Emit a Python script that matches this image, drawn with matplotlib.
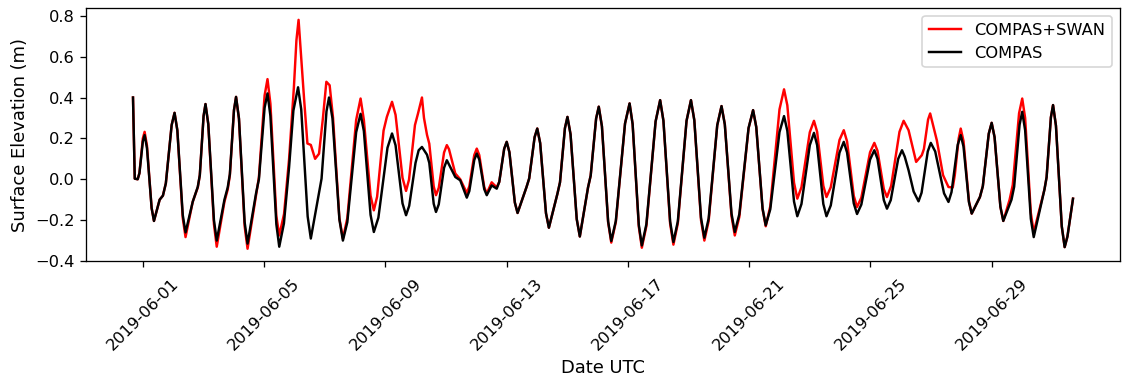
import matplotlib
matplotlib.use("Agg")
import matplotlib.pyplot as plt
import matplotlib.dates as mdates
import pandas as pd

# (hours after 2019-06-01 00:00 UTC, surface elevation in m)
compas_readings = [
    (-7.9, 0.40), (-6.5, 0.003), (-4.2, 0.0), (-2.8, 0.03), (-0.1, 0.185), (1.3, 0.216),
    (3.15, 0.153), (6.85, -0.141), (8.7, -0.204), (13.2, -0.10), (15.8, -0.08), (18.1, -0.02),
    (22.7, 0.265), (25.0, 0.325), (27.2, 0.24), (31.5, -0.175), (33.7, -0.26), (39.4, -0.11),
    (43.4, -0.037), (45.0, 0.02), (48.0, 0.31), (49.5, 0.368), (51.7, 0.27), (56.2, -0.20),
    (58.4, -0.30), (64.5, -0.10), (67.1, -0.04), (68.8, 0.025), (72.05, 0.338), (73.7, 0.403),
    (76.0, 0.298), (80.5, -0.21), (82.8, -0.315), (89.5, -0.07), (91.8, 0.0), (96.3, 0.35),
    (98.6, 0.42), (100.9, 0.31), (105.6, -0.22), (107.9, -0.33), (111.6, -0.216), (115.7, 0.06),
    (119.1, 0.336), (122.8, 0.45), (125.3, 0.342), (130.4, -0.182), (132.9, -0.29), (139.4, -0.065),
    (141.4, 0.003), (145.3, 0.332), (147.3, 0.40), (150.05, 0.298), (155.55, -0.198), (158.3, -0.30),
    (161.8, -0.21), (168.8, 0.23), (172.3, 0.32), (174.9, 0.236), (180.2, -0.174), (182.8, -0.258),
    (186.4, -0.188), (193.6, 0.154), (197.2, 0.224), (200.0, 0.166), (205.5, -0.118), (208.3, -0.176),
    (210.8, -0.13), (215.8, 0.08), (218.3, 0.142), (220.9, 0.158), (224.9, 0.12), (226.7, 0.08),
    (230.2, -0.12), (232.0, -0.16), (234.2, -0.123), (238.4, 0.056), (240.6, 0.093), (247.3, 0.011),
    (251.2, -0.005), (256.4, -0.09), (258.4, -0.058), (262.3, 0.094), (264.3, 0.126), (266.3, 0.096),
    (270.2, -0.048), (272.2, -0.078), (276.1, -0.03), (280.1, -0.046), (282.1, -0.013), (286.0, 0.149),
    (288.0, 0.183), (290.15, 0.132), (294.45, -0.114), (296.6, -0.165), (303.7, -0.038), (305.8, 0.004),
    (310.1, 0.206), (312.2, 0.248), (314.5, 0.177), (319.1, -0.166), (321.4, -0.237), (328.2, -0.07),
    (330.2, -0.015), (334.1, 0.25), (336.1, 0.305), (338.55, 0.22), (343.45, -0.195), (345.9, -0.28),
    (352.4, -0.04), (354.5, 0.018), (358.8, 0.297), (360.9, 0.355), (363.4, 0.259), (368.3, -0.206),
    (370.8, -0.302), (374.4, -0.204), (381.7, 0.273), (385.3, 0.371), (387.7, 0.27), (392.6, -0.223),
    (395.0, -0.324), (398.6, -0.22), (405.9, 0.283), (409.5, 0.387), (412.1, 0.286), (417.4, -0.206),
    (420.0, -0.307), (423.5, -0.206), (430.4, 0.286), (433.9, 0.387), (436.55, 0.289), (441.85, -0.188),
    (444.5, -0.286), (447.9, -0.192), (454.7, 0.264), (458.1, 0.358), (460.7, 0.268), (466.0, -0.168),
    (468.6, -0.258), (472.2, -0.171), (479.5, 0.251), (483.1, 0.338), (485.6, 0.256), (490.6, -0.143),
    (493.1, -0.225), (496.7, -0.147), (504.0, 0.231), (507.6, 0.309), (510.2, 0.237), (515.5, -0.109),
    (518.1, -0.181), (521.4, -0.121), (528.0, 0.167), (531.3, 0.227), (533.8, 0.167), (538.7, -0.121),
    (541.2, -0.181), (544.6, -0.128), (551.5, 0.13), (554.9, 0.183), (557.5, 0.131), (562.8, -0.118),
    (565.4, -0.17), (568.8, -0.124), (575.7, 0.096), (579.1, 0.142), (581.6, 0.10), (586.6, -0.102),
    (589.1, -0.144), (592.1, -0.102), (598.0, 0.10), (601.0, 0.142), (603.2, 0.11), (606.2, 0.044),
    (610.2, -0.06), (614.1, -0.108), (616.5, -0.066), (621.4, 0.136), (623.8, 0.178), (627.3, 0.136),
    (634.3, -0.069), (637.8, -0.111), (640.2, -0.063), (645.1, 0.168), (647.5, 0.216), (649.7, 0.16),
    (654.0, -0.112), (656.2, -0.168), (662.7, -0.087), (665.0, -0.034), (669.7, 0.223), (672.0, 0.276),
    (674.3, 0.206), (678.9, -0.134), (681.2, -0.204), (687.7, -0.10), (689.8, -0.037), (694.1, 0.267),
    (696.2, 0.33), (698.5, 0.24), (703.0, -0.193), (705.3, -0.283), (713.8, -0.05), (715.5, 0.01),
    (718.9, 0.303), (720.6, 0.363), (722.9, 0.262), (727.5, -0.23), (729.8, -0.332), (732.0, -0.28),
    (736.4, -0.095),
]

compas_swan_readings = [
    (-7.9, 0.40), (-6.5, 0.003), (-4.2, 0.0), (-2.8, 0.03), (-0.1, 0.20), (1.3, 0.232),
    (3.15, 0.165), (6.85, -0.141), (8.7, -0.204), (13.2, -0.10), (15.8, -0.08), (18.1, -0.02),
    (22.7, 0.265), (25.0, 0.325), (27.2, 0.24), (31.5, -0.19), (33.7, -0.283), (39.4, -0.11),
    (43.4, -0.04), (45.0, 0.02), (48.0, 0.31), (49.5, 0.368), (51.7, 0.27), (56.2, -0.22),
    (58.4, -0.33), (64.5, -0.11), (67.1, -0.05), (68.8, 0.02), (72.05, 0.338), (73.7, 0.403),
    (76.0, 0.295), (80.5, -0.23), (82.8, -0.34), (89.5, -0.08), (91.8, 0.01), (96.3, 0.41),
    (98.6, 0.49), (100.9, 0.37), (105.6, -0.18), (107.9, -0.275), (111.7, -0.17), (115.7, 0.10),
    (119.5, 0.45), (121.5, 0.68), (123.2, 0.78), (125.0, 0.62), (127.6, 0.39), (130.2, 0.175),
    (132.9, 0.168), (136.3, 0.10), (139.4, 0.125), (142.5, 0.30), (145.2, 0.477), (147.8, 0.46),
    (150.5, 0.30), (155.5, -0.19), (158.3, -0.29), (161.8, -0.19), (168.8, 0.29), (172.3, 0.395),
    (174.9, 0.29), (180.2, -0.08), (182.8, -0.152), (185.4, -0.085), (190.5, 0.238), (193.1, 0.305),
    (197.2, 0.379), (200.0, 0.315), (205.5, 0.007), (208.3, -0.057), (210.65, -0.002), (215.35, 0.265),
    (217.7, 0.32), (220.9, 0.40), (222.5, 0.30), (224.9, 0.217), (226.7, 0.174), (230.2, -0.035),
    (232.0, -0.078), (234.2, -0.042), (238.4, 0.131), (240.6, 0.167), (242.3, 0.147), (247.3, 0.028),
    (251.2, 0.0), (256.4, -0.067), (258.4, -0.035), (262.3, 0.118), (264.3, 0.15), (266.3, 0.118),
    (270.2, -0.038), (272.2, -0.07), (276.1, -0.015), (280.1, -0.04), (282.1, -0.013), (286.0, 0.149),
    (288.0, 0.183), (290.15, 0.132), (294.45, -0.114), (296.6, -0.165), (303.7, -0.038), (305.8, 0.004),
    (310.1, 0.206), (312.2, 0.248), (314.5, 0.177), (319.1, -0.166), (321.4, -0.237), (328.2, -0.07),
    (330.2, -0.015), (334.1, 0.25), (336.1, 0.305), (338.55, 0.22), (343.45, -0.195), (345.9, -0.28),
    (352.4, -0.04), (354.5, 0.018), (358.8, 0.297), (360.9, 0.355), (363.4, 0.259), (368.3, -0.21),
    (370.8, -0.31), (374.4, -0.21), (381.7, 0.273), (385.3, 0.371), (387.7, 0.27), (392.6, -0.232),
    (395.0, -0.335), (398.6, -0.229), (405.9, 0.283), (409.5, 0.387), (412.1, 0.286), (417.4, -0.217),
    (420.0, -0.32), (423.5, -0.216), (430.4, 0.286), (433.9, 0.387), (436.55, 0.289), (441.85, -0.20),
    (444.5, -0.30), (447.9, -0.205), (454.7, 0.264), (458.1, 0.358), (460.7, 0.27), (466.0, -0.18),
    (468.6, -0.275), (472.2, -0.184), (479.5, 0.249), (483.1, 0.338), (485.6, 0.255), (490.6, -0.146),
    (493.1, -0.23), (496.7, -0.132), (504.0, 0.342), (507.6, 0.44), (510.2, 0.362), (515.5, -0.017),
    (518.1, -0.095), (521.4, -0.039), (528.0, 0.23), (531.3, 0.286), (533.8, 0.232), (538.7, -0.032),
    (541.2, -0.087), (544.6, -0.039), (551.5, 0.192), (554.9, 0.24), (557.5, 0.185), (562.8, -0.081),
    (565.4, -0.136), (568.8, -0.09), (575.7, 0.132), (579.1, 0.178), (581.6, 0.139), (586.6, -0.048),
    (589.1, -0.087), (592.4, -0.033), (599.0, 0.232), (602.3, 0.286), (606.2, 0.24), (612.2, 0.085),
    (616.7, 0.118), (618.35, 0.148), (621.65, 0.292), (623.3, 0.322), (628.6, 0.19), (633.5, 0.02),
    (637.8, -0.038), (641.2, -0.04), (642.8, 0.02), (645.9, 0.20), (647.5, 0.248), (649.7, 0.187),
    (654.0, -0.107), (656.2, -0.168), (662.7, -0.087), (665.0, -0.034), (669.7, 0.223), (672.0, 0.276),
    (674.3, 0.206), (678.9, -0.134), (681.2, -0.204), (686.2, -0.10), (688.7, -0.028), (693.7, 0.323),
    (696.2, 0.395), (698.5, 0.30), (703.0, -0.164), (705.3, -0.26), (713.8, -0.05), (715.5, 0.01),
    (718.9, 0.303), (720.6, 0.363), (722.9, 0.262), (727.5, -0.23), (729.8, -0.332), (732.0, -0.28),
    (736.4, -0.095),
]

tick_dates = ["2019-06-01", "2019-06-05", "2019-06-09", "2019-06-13",
              "2019-06-17", "2019-06-21", "2019-06-25", "2019-06-29"]

start = pd.Timestamp("2019-06-01")


def to_series(readings):
    hours, values = zip(*readings)
    return start + pd.to_timedelta(list(hours), unit="h"), list(values)


t_compas, compas = to_series(compas_readings)
t_swan, compas_swan = to_series(compas_swan_readings)

W, H, DPI = 1123, 376, 117
fig, ax = plt.subplots(figsize=(W / DPI, H / DPI), dpi=DPI)
fig.subplots_adjust(left=86 / W, right=1120 / W, top=1 - 8 / H, bottom=1 - 261 / H)

ax.plot(t_swan, compas_swan, color="red", lw=1.5, label="COMPAS+SWAN")
ax.plot(t_compas, compas, color="black", lw=1.5, label="COMPAS")

ax.set_ylim(-0.4, 0.838)
ax.set_xticks(pd.to_datetime(tick_dates))
ax.xaxis.set_major_formatter(mdates.DateFormatter("%Y-%m-%d"))
ax.tick_params(axis="x", pad=5.5)
plt.setp(ax.get_xticklabels(), rotation=45)

ax.set_xlabel("Date UTC", fontsize=11)
ax.set_ylabel("Surface Elevation (m)", fontsize=11)
ax.legend(loc="upper right")

fig.savefig("out.png", dpi=DPI)
